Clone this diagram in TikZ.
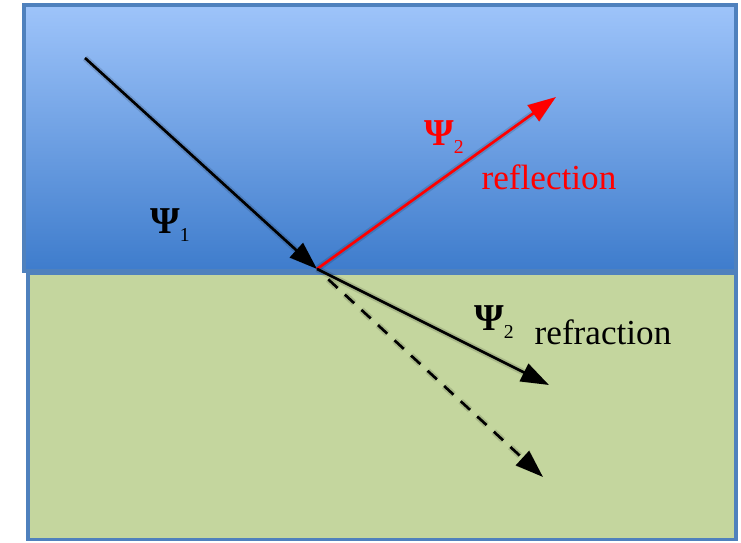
\documentclass[tikz,border=0pt]{standalone}
\usepackage{fontspec}
\setmainfont{Liberation Serif}
\usetikzlibrary{arrows.meta,calc,positioning}
\definecolor{skytop}{RGB}{158,196,250}
\definecolor{skybot}{RGB}{62,124,204}
\definecolor{ground}{RGB}{196,214,158}
\definecolor{frame}{RGB}{79,129,189}
\newcommand{\wavefn}[1]{{\fontsize{27}{27}\selectfont\bfseries Ψ}\raisebox{-6pt}{\fontsize{14}{14}\selectfont #1}}

\begin{document}
\begin{tikzpicture}[>={Triangle[length=7mm,width=4.8mm]},
  ray/.style={line width=1.9pt,->},
  haze/.style={line width=4.5pt,->,black,opacity=0.13,xshift=2pt,yshift=-3pt},
  lbl/.style={font=\fontsize{25}{25}\selectfont},
  psi/.style={inner sep=0pt}]
  \useasboundingbox (0,0) rectangle (18.525,13.575);
  \shade[top color=skytop, bottom color=skybot, draw=frame, line width=2.4pt]
    (0.6,6.8) rectangle (18.4,13.45);
  \fill[ground, draw=frame, line width=2.4pt] (0.7,0.08) rectangle (18.4,6.75);

  \coordinate (src) at (2.125,12.125);
  \coordinate (hit) at (7.925,6.85);
  \coordinate (refltip) at (13.9,11.15);
  \coordinate (refrtip) at (13.725,3.95);
  \coordinate (ghosttip) at (13.575,1.65);

  % shadows
  \draw[haze] (src) -- (hit);
  \draw[haze] (hit) -- (refltip);
  \draw[haze] (hit) -- (refrtip);
  \draw[haze, dash pattern=on 9pt off 7pt] ($(hit)!0.05!(ghosttip)$) -- (ghosttip);

  \draw[ray] (src) -- (hit);
  \draw[ray, red] (hit) -- (refltip);
  \draw[ray] (hit) -- (refrtip);
  \draw[ray, dash pattern=on 9pt off 7pt] ($(hit)!0.05!(ghosttip)$) -- (ghosttip);

  \node[psi] (psiA) at (4.25,7.95) {\wavefn{1}};
  \node[psi, text=red] (psiB) at (11.1,10.15) {\wavefn{2}};
  \node[psi] (psiC) at (12.35,5.525) {\wavefn{2}};
  \node[lbl, text=red] (refl) at (13.725,9.15) {reflection};
  \node[lbl] (refr) at (15.075,5.275) {refraction};
\end{tikzpicture}
\end{document}
